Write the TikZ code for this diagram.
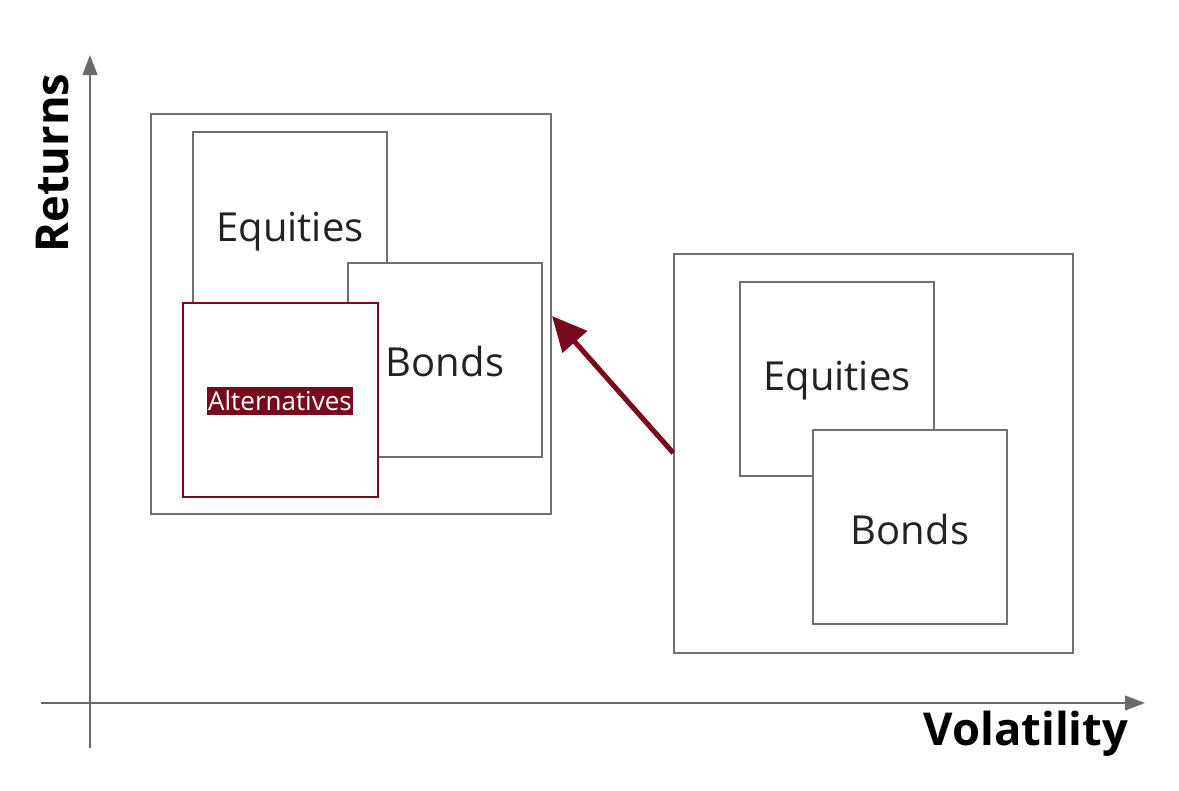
\documentclass[tikz,border=0pt]{standalone}
\usepackage{fontspec}
\setmainfont{Open Sans}
\usetikzlibrary{arrows.meta}
\definecolor{axisgray}{HTML}{6A6A6A}
\definecolor{boxgray}{HTML}{707070}
\definecolor{txt}{HTML}{222222}
\definecolor{wine}{HTML}{780A1E}
\begin{document}
\begin{tikzpicture}[x=0.75pt,y=-0.75pt,
  pbox/.style={draw=boxgray,line width=1.3pt,fill=white},
  lbl/.style={text=txt,font=\fontsize{30}{36}\selectfont},
  axislbl/.style={text=black,font=\bfseries\fontsize{34}{40}\selectfont},
  axisline/.style={draw=axisgray,line width=1.5pt,-{Triangle[length=15pt,width=11pt]}}]
\useasboundingbox (0,0) rectangle (1179,790);
% axes
\coordinate (ybot) at (90,748);
\coordinate (ytop) at (90,55);
\coordinate (xl) at (41,703);
\coordinate (xr) at (1145,703);
\draw[axisline] (ybot) -- (ytop);
\draw[axisline] (xl) -- (xr);
\node[axislbl,rotate=90] (ret) at (53,163) {Returns};
\node[axislbl] (vol) at (1026,734) {Volatility};
% left group
\node[pbox,minimum width=300pt,minimum height=300pt,inner sep=0pt] (lout) at (351,314) {};
\draw[pbox] (193,132) rectangle (387,326);
\node[lbl] (leq) at (290,232) {Equities};
\draw[pbox] (348,263) rectangle (542,457);
\node[lbl] (lbo) at (445,361) {Bonds};
\draw[draw=wine,line width=1.3pt,fill=white] (183,303) rectangle (378,497);
\node[fill=wine,text=white,inner xsep=1.2pt,inner ysep=3pt,font=\fontsize{19.5}{23}\selectfont] (alt) at (280,401) {Alternatives};
% right group
\node[pbox,minimum width=299pt,minimum height=299pt,inner sep=0pt] (rout) at (873.5,453.5) {};
\draw[pbox] (740,282) rectangle (934,476);
\node[lbl] (req) at (837,381) {Equities};
\draw[pbox] (813,430) rectangle (1007,624);
\node[lbl] (rbo) at (910,529) {Bonds};
% arrow
\coordinate (aend) at (552,316);
\draw[draw=wine,line width=3.8pt,-{Triangle[length=26pt,width=24pt]}] (rout.west |- 0,453) -- (aend);
\end{tikzpicture}
\end{document}
